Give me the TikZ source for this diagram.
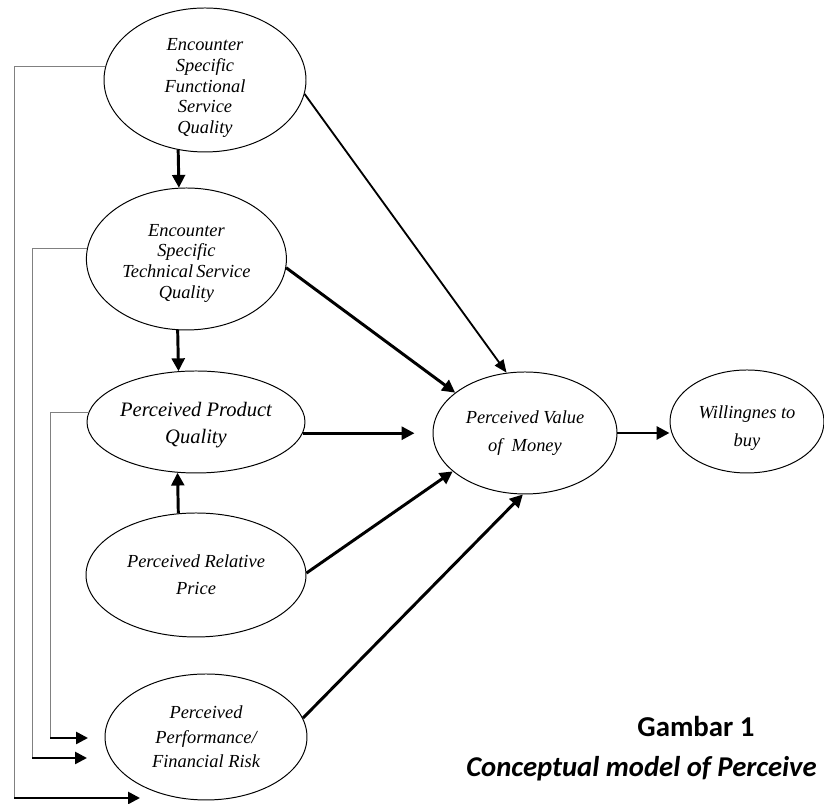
\documentclass[tikz,border=0pt]{standalone}
\usepackage{fontspec}
\setmainfont{Liberation Serif}
\newfontfamily\capfont{Carlito}
\usepackage{tikz}
\usetikzlibrary{shapes.geometric}
\usetikzlibrary{arrows.meta}

\tikzset{
	var/.style={ellipse, draw, line width=0.7pt, inner sep=0pt},
	txt/.style={align=center, inner sep=0pt, font=\itshape\fontsize{13.1}{19.5}\selectfont},
	link/.style={line width=2.1pt, -{Triangle[length=0.32cm,width=0.32cm]}},
	thinlink/.style={line width=1.3pt, -{Triangle[length=0.32cm,width=0.26cm]}},
	fbline/.style={gray, line width=0.7pt},
	fbarrow/.style={line width=1.8pt, -{Triangle[length=0.3cm,width=0.3cm]}}
}

\begin{document}
\begin{tikzpicture}
		\useasboundingbox (0,0) rectangle (20.6,20.1);

		\node[var, minimum width=5.05cm, minimum height=3.6cm, label={[txt, yshift=-0.2cm, font=\itshape\fontsize{13.1}{14.7}\selectfont]center:Encounter\\Specific\\Functional\\Service\\Quality}] (fsq) at (5.125,18.1) {};
		\node[var, minimum width=5cm, minimum height=3.55cm, label={[txt, yshift=-0.1cm, font=\itshape\fontsize{13.1}{14.7}\selectfont]center:Encounter\\Specific\\Technical\,Service\\Quality}] (tsq) at (4.66,13.625) {};
		\node[var, minimum width=5.45cm, minimum height=2.55cm, label={[txt, yshift=-0.08cm, font=\itshape\fontsize{14.6}{19}\selectfont]center:Perceived Product\\Quality}] (ppq) at (4.9,9.55) {};
		\node[var, minimum width=5.5cm, minimum height=3.1cm, label={[txt]center:Perceived Relative\\Price}] (prp) at (4.9,5.725) {};
		\node[var, minimum width=5.05cm, minimum height=3.15cm, label={[txt, font=\itshape\fontsize{13.1}{17.5}\selectfont]center:Perceived\\Performance/\\Financial Risk}] (risk) at (5.15,1.675) {};
		\node[var, minimum width=4.6cm, minimum height=3.05cm, label={[txt]center:Perceived Value\\of~~Money}] (pvm) at (13.125,9.275) {};
		\node[var, minimum width=3.85cm, minimum height=2.575cm, label={[txt, yshift=-0.17cm]center:Willingnes to\\buy}] (wtb) at (18.675,9.5625) {};

		\draw[link] (fsq.-111) -- (tsq.96.8);
		\draw[link] (tsq.263.2) -- (ppq.109.4);
		\draw[link] (prp.106.2) -- (ppq.250.6);

		\draw[thinlink] (fsq.-8) -- (pvm.107.6);
		\draw[link] (tsq.-5.7) -- (pvm.150);
		\draw[link, shorten >=0.45cm] (ppq.-6) -- (ppq.-6 -| pvm.west);
		\draw[link] (prp.1) -- (pvm.208.7);
		\draw[link] (risk.11.2) -- (pvm.268);
		\draw[link] (pvm.east) -- (pvm.east -| wtb.west);

		\coordinate (c1) at (0.35,0.15);
		\coordinate (e1) at (3.5,0.15);
		\coordinate (c2) at (0.8,1.15);
		\coordinate (e2) at (2.175,1.15);
		\coordinate (c3) at (1.25,1.65);
		\coordinate (e3) at (2.2,1.65);

		\draw[fbline] (fsq.172) -| (c1);
		\draw[fbline] (tsq.174) -| (c2);
		\draw[fbline] (ppq.175) -| (c3);
		\draw[fbarrow] (c1) -- (e1);
		\draw[fbarrow] (c2) -- (e2);
		\draw[fbarrow] (c3) -- (e3);

		\node[anchor=base, inner sep=0pt, font=\capfont\bfseries\fontsize{20.5}{24}\selectfont] (fig) at (17.4,1.675) {Gambar 1};
		\node[anchor=base west, inner sep=0pt, font=\capfont\bfseries\itshape\fontsize{20.4}{24}\selectfont] (title) at (11.65,0.675) {Conceptual model of Perceive};
	\end{tikzpicture}
\end{document}
